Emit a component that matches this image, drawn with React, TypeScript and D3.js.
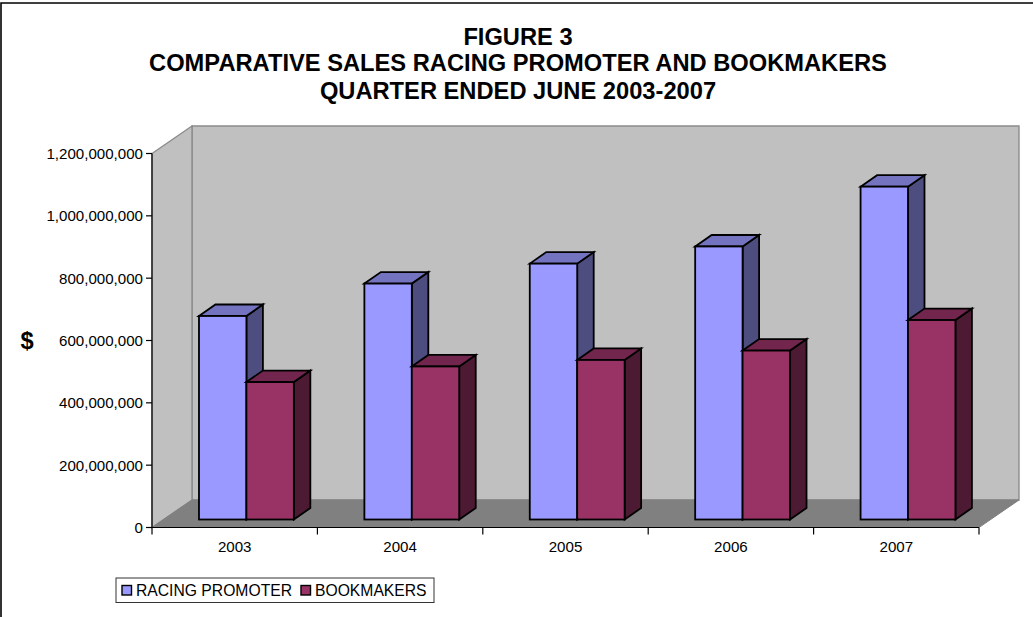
import React from "react";
import * as d3 from "d3";

const years = ["2003", "2004", "2005", "2006", "2007"];
const seriesNames = ["RACING PROMOTER", "BOOKMAKERS"];
const promoter = [653e6, 757e6, 821e6, 876e6, 1068e6];
const bookmakers = [441e6, 491e6, 512e6, 542e6, 640e6];
const ticks = [0, 2e8, 4e8, 6e8, 8e8, 1e9, 1.2e9];
const titleLines = [
  "FIGURE 3",
  "COMPARATIVE SALES RACING PROMOTER AND BOOKMAKERS",
  "QUARTER ENDED JUNE 2003-2007",
];
const fills = [
  { front: "#9999FF", top: "#7373BF", side: "#4D4D80" },
  { front: "#993366", top: "#73264D", side: "#4D1A33" },
];

const W = 1033, H = 617;
const L = 152, R = 979, T = 153.5, B = 527.5;
const DX = 40, DY = -27.5;
const FONT = "'Liberation Sans', Arial, sans-serif";

export default function App() {
  const y = d3.scaleLinear().domain([0, 1.2e9]).range([B, T]);
  const x0 = d3.scaleBand<string>().domain(years).range([L, R]).paddingInner(0.4265).paddingOuter(0.2133);
  const x1 = d3.scaleBand<string>().domain(seriesNames).range([0, x0.bandwidth()]);
  const bdx = 16.5, bdy = -11.5; // bar depth
  const ox = 11.7, oy = -8; // bar offset inside floor
  const fmt = d3.format(",");
  const lineP = d3.line();

  const bars = years.flatMap((yr, i) =>
    [promoter[i], bookmakers[i]].map((v, s) => {
      const xa = x0(yr)! + x1(seriesNames[s])! + ox;
      const xb = xa + x1.bandwidth();
      const yt = y(v) + oy;
      const yb = y(0) + oy;
      return { key: yr + s, s, xa, xb, yt, yb };
    })
  );

  return (
    <svg width={W} height={H} style={{ position: "absolute", left: 0, top: 0, display: "block" }} fontFamily={FONT}>
      <rect x={0} y={0} width={W} height={H} fill="#fff" />
      <path d={`M1,${H} V3 H${W}`} fill="none" stroke="#000" strokeWidth={1.6} />

      {titleLines.map((t, i) => (
        <text key={t} x={518} y={[44.5, 71, 99][i]} textAnchor="middle" fontSize={23.7} fontWeight={700} fill="#000">{t}</text>
      ))}

      {/* walls */}
      <path d={lineP([[L + DX, T + DY], [R + DX, T + DY], [R + DX, B + DY], [L + DX, B + DY]])! + "Z"} fill="#C0C0C0" stroke="#8c8c8c" strokeWidth={1.4} />
      <path d={lineP([[L, T], [L + DX, T + DY], [L + DX, B + DY], [L, B]])! + "Z"} fill="#C0C0C0" stroke="#8c8c8c" strokeWidth={1.4} />
      <path d={lineP([[L, B], [R, B], [R + DX, B + DY], [L + DX, B + DY]])! + "Z"} fill="#808080" stroke="#808080" strokeWidth={1} />

      {/* bars */}
      {bars.map((b) => (
        <g key={b.key} stroke="#000" strokeWidth={1.8} strokeLinejoin="miter">
          <path d={lineP([[b.xb, b.yt], [b.xb + bdx, b.yt + bdy], [b.xb + bdx, b.yb + bdy], [b.xb, b.yb]])! + "Z"} fill={fills[b.s].side} />
          <path d={lineP([[b.xa, b.yt], [b.xa + bdx, b.yt + bdy], [b.xb + bdx, b.yt + bdy], [b.xb, b.yt]])! + "Z"} fill={fills[b.s].top} />
          <rect x={b.xa} y={b.yt} width={b.xb - b.xa} height={b.yb - b.yt} fill={fills[b.s].front} />
        </g>
      ))}

      {/* y axis */}
      <line x1={L} x2={L} y1={T} y2={B} stroke="#000" strokeWidth={1.2} />
      {ticks.map((t) => (
        <g key={t}>
          <line x1={L - 6} x2={L} y1={y(t)} y2={y(t)} stroke="#000" strokeWidth={1.2} />
          <text x={L - 9} y={y(t)} dy="0.36em" textAnchor="end" fontSize={15.1} fill="#000">{fmt(t)}</text>
        </g>
      ))}
      <text x={27} y={349} textAnchor="middle" fontSize={23.7} fontWeight={700} fill="#000">$</text>

      {/* x axis */}
      <line x1={L} x2={R} y1={B} y2={B} stroke="#000" strokeWidth={1.2} />
      {[...years.map((yr) => x0(yr)! - x0.step() * x0.paddingInner() / 2), R].map((px) => (
        <line key={px} x1={px} x2={px} y1={B} y2={B + 7} stroke="#000" strokeWidth={1.2} />
      ))}
      {years.map((yr) => (
        <text key={yr} x={x0(yr)! + x0.bandwidth() / 2} y={551.5} textAnchor="middle" fontSize={15.1} fill="#000">{yr}</text>
      ))}

      {/* legend */}
      <rect x={116} y={578} width={318} height={24.5} fill="#fff" stroke="#333" strokeWidth={1} />
      <rect x={122} y={585.5} width={9.5} height={9.5} fill={fills[0].front} stroke="#000" strokeWidth={1.4} />
      <text x={136} y={595.5} fontSize={15.7} fill="#000">{seriesNames[0]}</text>
      <rect x={301} y={585.5} width={9.5} height={9.5} fill={fills[1].front} stroke="#000" strokeWidth={1.4} />
      <text x={315} y={595.5} fontSize={15.7} fill="#000">{seriesNames[1]}</text>
    </svg>
  );
}
